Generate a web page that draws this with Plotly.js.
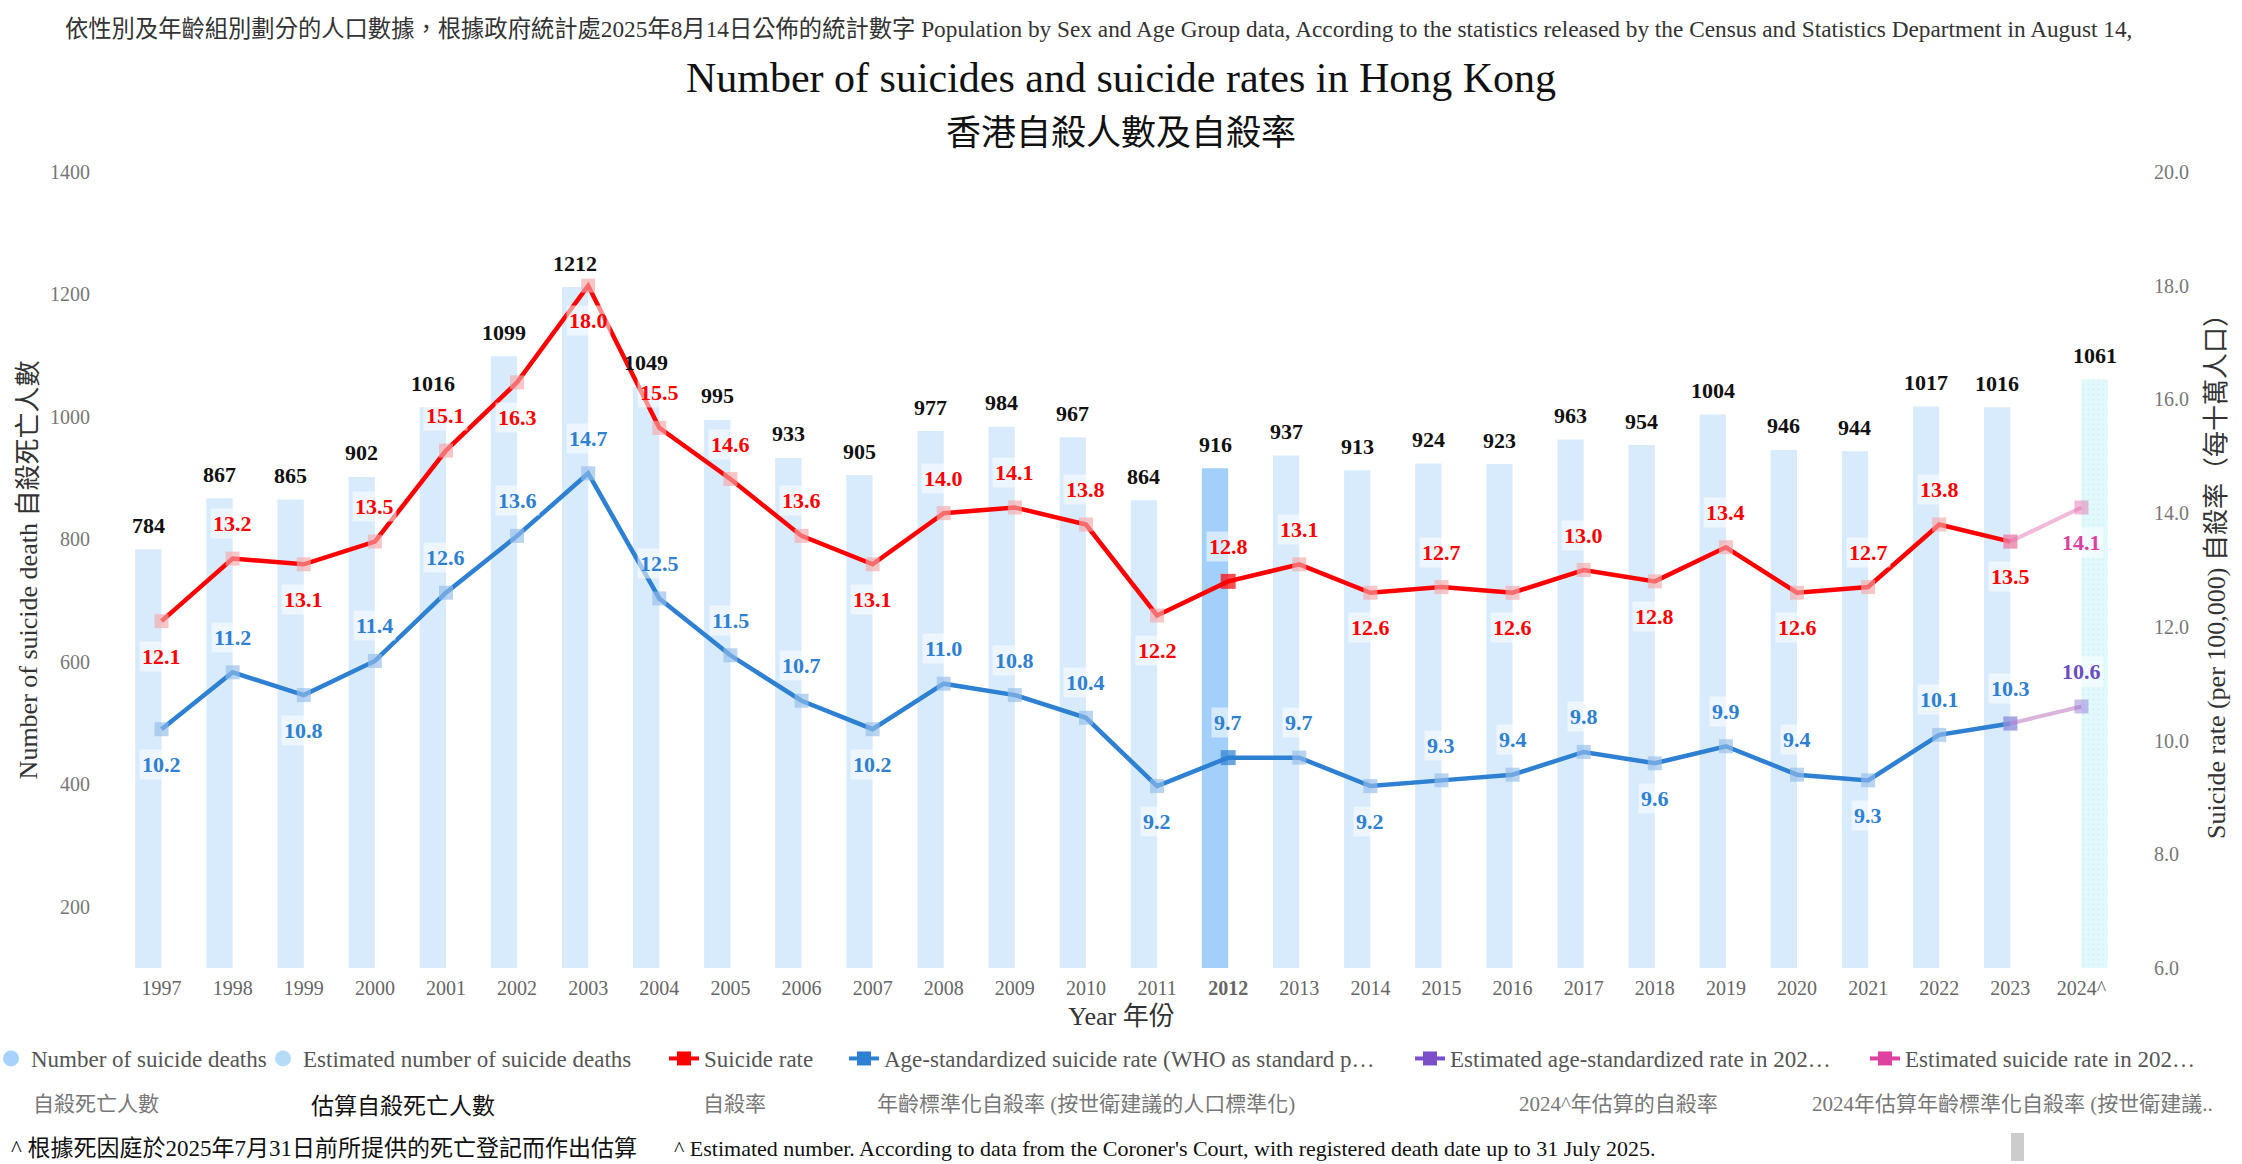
<!DOCTYPE html>
<html>
<head>
<meta charset="utf-8">
<script src="https://cdn.plot.ly/plotly-3.0.1.min.js"></script>
<style>html,body{margin:0;padding:0;background:#fff;}#chart{width:2242px;height:1164px;}</style>
</head>
<body>
<div id="chart"></div>
<script>
// ---------- data ----------
const years = ['1997','1998','1999','2000','2001','2002','2003','2004','2005','2006','2007','2008','2009','2010','2011','2012','2013','2014','2015','2016','2017','2018','2019','2020','2021','2022','2023'];
const estYears = ['2024^'];
const deaths = [784,867,865,902,1016,1099,1212,1049,995,933,905,977,984,967,864,916,937,913,924,923,963,954,1004,946,944,1017,1016];
const estDeaths = [1061];
const suicideRate = [12.1,13.2,13.1,13.5,15.1,16.3,18.0,15.5,14.6,13.6,13.1,14.0,14.1,13.8,12.2,12.8,13.1,12.6,12.7,12.6,13.0,12.8,13.4,12.6,12.7,13.8,13.5];
const ageStdRate = [10.2,11.2,10.8,11.4,12.6,13.6,14.7,12.5,11.5,10.7,10.2,11.0,10.8,10.4,9.2,9.7,9.7,9.2,9.3,9.4,9.8,9.6,9.9,9.4,9.3,10.1,10.3];
const estSuicideRate = [14.1];
const estAgeStdRate = [10.6];
const highlightYear = '2012';

const legendNames = ['Number of suicide deaths', 'Estimated number of suicide deaths', 'Suicide rate',
  'Age-standardized suicide rate (WHO as standard p…', 'Estimated age-standardized rate in 202…', 'Estimated suicide rate in 202…'];
const legendNamesZh = ['自殺死亡人數', '估算自殺死亡人數', '自殺率', '年齡標準化自殺率 (按世衛建議的人口標準化)', '2024^年估算的自殺率', '2024年估算年齡標準化自殺率 (按世衛建議..'];

// label placement (style only): a = above point, b = below point
const rateLabelSide = ['b','a','b','a','a','b','b','a','a','a','b','a','a','a','b','a','a','b','a','b','a','b','a','b','a','a','b'];
const ageLabelSide  = ['b','a','b','a','a','a','a','a','a','a','b','a','a','a','b','a','a','b','a','a','a','b','a','a','b','a','a'];
const estRateLabelSide = ['b'];
const estAgeLabelSide = ['a'];

// ---------- style ----------
const SERIF = '"Liberation Serif", "Times New Roman", "Noto Sans CJK TC", serif';
const RED = '#ff0000', BLUE = '#2e80d2', PURPLE = '#6b4cc4', PINK = '#dd3fa0';
const W = 2242, H = 1164, L = 126, R = 2117, T = 172, B = 968;
const px = p => (p - L) / (R - L);
const py = p => (B - p) / (B - T);
const BAR_W = 0.37;

const lastIdx = years.length - 1;
const allCats = years.concat(estYears);

const legendIds = ['legend', 'legend2', 'legend3', 'legend4', 'legend5', 'legend6'];
const legendTextStartPx = [31, 303, 704, 884, 1450, 1905];
const legendZhPx = [31, 309, 701, 875, 1517, 1810];

const traces = [
  {
    type: 'bar', name: legendNames[0], x: years, y: deaths, width: BAR_W, offset: -BAR_W,
    marker: { color: years.map(y => y === highlightYear ? '#a2d0fb' : '#d8ebfd') },
    showlegend: false
  },
  {
    type: 'bar', name: legendNames[1], x: estYears, y: estDeaths, width: BAR_W, offset: 0,
    marker: { color: '#e0f8fb', pattern: { shape: '.', fgcolor: '#d2f1f7', bgcolor: '#e2f9fc', size: 5, solidity: 0.15 } },
    showlegend: false
  },
  {
    type: 'scatter', mode: 'lines+markers', name: legendNames[2], x: years, y: suicideRate, yaxis: 'y2',
    line: { color: RED, width: 4.5 },
    marker: { symbol: 'square', size: years.map(y => y === highlightYear ? 15 : 14), line: { width: 0 },
      color: years.map(y => y === highlightYear ? RED : 'rgba(246,166,168,0.92)') },
    showlegend: false, cliponaxis: false
  },
  {
    type: 'scatter', mode: 'lines+markers', name: legendNames[3], x: years, y: ageStdRate, yaxis: 'y2',
    line: { color: BLUE, width: 4.5 },
    marker: { symbol: 'square', size: years.map(y => y === highlightYear ? 15 : 14), line: { width: 0 },
      color: years.map(y => y === highlightYear ? BLUE : 'rgba(146,188,233,0.92)') },
    showlegend: false, cliponaxis: false
  },
  {
    type: 'scatter', mode: 'lines+markers', name: legendNames[5],
    x: [years[lastIdx], estYears[0]], y: [suicideRate[lastIdx], estSuicideRate[0]], yaxis: 'y2',
    line: { color: 'rgba(232,130,185,0.55)', width: 4 },
    marker: { symbol: 'square', size: 14, color: 'rgba(228,100,168,0.45)', line: { width: 0 } },
    showlegend: false, cliponaxis: false
  },
  {
    type: 'scatter', mode: 'lines+markers', name: legendNames[4],
    x: [years[lastIdx], estYears[0]], y: [ageStdRate[lastIdx], estAgeStdRate[0]], yaxis: 'y2',
    line: { color: 'rgba(205,155,210,0.75)', width: 4 },
    marker: { symbol: 'square', size: 14, color: 'rgba(140,110,210,0.45)', line: { width: 0 } },
    showlegend: false, cliponaxis: false
  }
];

// legend-only entries (one legend box each so they can be spaced like the reference)
const legendStyles = [
  { mode: 'markers', marker: { symbol: 'circle', size: 16, color: '#a6d2fb' } },
  { mode: 'markers', marker: { symbol: 'circle', size: 16, color: '#b4dcf7' } },
  { mode: 'lines+markers', line: { color: RED, width: 4 }, marker: { symbol: 'square', size: 14, color: RED } },
  { mode: 'lines+markers', line: { color: BLUE, width: 4 }, marker: { symbol: 'square', size: 14, color: BLUE } },
  { mode: 'lines+markers', line: { color: '#7b4fc8', width: 4 }, marker: { symbol: 'square', size: 14, color: '#7b4fc8' } },
  { mode: 'lines+markers', line: { color: '#e040a0', width: 4 }, marker: { symbol: 'square', size: 14, color: '#e040a0' } }
];
legendNames.forEach((nm, i) => {
  traces.push(Object.assign({ type: 'scatter', name: nm, x: [null], y: [null], legend: legendIds[i], showlegend: true }, legendStyles[i]));
});

// ---------- annotations ----------
const annotations = [];
const LABEL_SHIFT = 35;
function pointLabel(catIndex, y, side, color) {
  annotations.push({
    x: catIndex, y: y, xref: 'x', yref: 'y2', showarrow: false,
    text: '<b>' + y.toFixed(1) + '</b>',
    yshift: side === 'a' ? LABEL_SHIFT : -LABEL_SHIFT,
    font: { family: SERIF, size: 22, color: color },
    bgcolor: 'rgba(255,255,255,0.55)', borderpad: 2
  });
}
function countLabel(catIndex, v) {
  annotations.push({
    x: catIndex, y: v, xref: 'x', yref: 'y', showarrow: false, yanchor: 'middle', yshift: 24,
    text: '<b>' + v + '</b>', font: { family: SERIF, size: 22, color: '#111' }
  });
}
years.forEach((yr, i) => {
  countLabel(allCats.indexOf(yr) - BAR_W / 2, deaths[i]);
});
estYears.forEach((yr, i) => {
  countLabel(allCats.indexOf(yr) + BAR_W / 2, estDeaths[i]);
});
years.forEach((yr, i) => {
  const ci = allCats.indexOf(yr);
  pointLabel(ci, suicideRate[i], rateLabelSide[i], RED);
  pointLabel(ci, ageStdRate[i], ageLabelSide[i], BLUE);
});
estYears.forEach((yr, i) => {
  const ci = allCats.indexOf(yr);
  pointLabel(ci, estSuicideRate[i], estRateLabelSide[i], PINK);
  pointLabel(ci, estAgeStdRate[i], estAgeLabelSide[i], PURPLE);
});

function paperText(text, xPix, yPix, size, color, anchor, family) {
  annotations.push({
    xref: 'paper', yref: 'paper', x: px(xPix), y: py(yPix), xanchor: anchor || 'left', yanchor: 'middle',
    showarrow: false, text: text, font: { family: family || SERIF, size: size, color: color }
  });
}
paperText('依性別及年齡組別劃分的人口數據，根據政府統計處2025年8月14日公佈的統計數字 Population by Sex and Age Group data, According to the statistics released by the Census and Statistics Department in August 14,', 63, 29, 23.3, '#333');
paperText('香港自殺人數及自殺率', 1121, 133, 35, '#111', 'center');
legendNamesZh.forEach((t, i) => {
  if (i === 1) paperText(t, legendZhPx[i], 1104, 23, '#111', 'left', '"Noto Sans CJK TC", sans-serif');
  else paperText(t, legendZhPx[i], 1104, 21, '#777');
});
paperText('^ 根據死因庭於2025年7月31日前所提供的死亡登記而作出估算', 9, 1148, 23, '#111');
paperText('^ Estimated number. According to data from the Coroner\'s Court, with registered death date up to 31 July 2025.', 672, 1148, 22, '#111');

const layout = {
  width: W, height: H,
  margin: { l: L, r: W - R, t: T, b: H - B, pad: 0, autoexpand: false },
  paper_bgcolor: '#fff', plot_bgcolor: '#fff',
  font: { family: SERIF, color: '#555' },
  title: { text: 'Number of suicides and suicide rates in Hong Kong', font: { family: SERIF, size: 42, color: '#111' },
    x: 0.5, xanchor: 'center', y: 1 - 77 / H, yanchor: 'middle', yref: 'container' },
  barmode: 'overlay',
  showlegend: true,
  xaxis: {
    type: 'category', categoryorder: 'array', categoryarray: allCats,
    range: [-0.5, allCats.length - 0.5], autorange: false,
    tickmode: 'array', tickvals: allCats, ticktext: allCats.map(c => c === highlightYear ? '<b>' + c + '</b>' : c),
    tickfont: { family: SERIF, size: 20, color: '#666' },
    showgrid: false, zeroline: false, showline: false, ticks: '', ticklabelstandoff: 6,
    title: { text: 'Year 年份', font: { family: SERIF, size: 26, color: '#333' }, standoff: 8 }
  },
  yaxis: {
    range: [100, 1400], autorange: false, tick0: 0, dtick: 200,
    tickfont: { family: SERIF, size: 20, color: '#777' },
    showgrid: false, zeroline: false, showline: false, ticks: '', ticklabelstandoff: 35,
    title: { text: 'Number of suicide death 自殺死亡人數', font: { family: SERIF, size: 26, color: '#333' }, standoff: 4 }
  },
  yaxis2: {
    overlaying: 'y', side: 'right', range: [6, 20], autorange: false, tick0: 6, dtick: 2, tickformat: '.1f',
    tickfont: { family: SERIF, size: 20, color: '#777' },
    showgrid: false, zeroline: false, showline: false, ticks: '', ticklabelstandoff: 36,
    title: { text: 'Suicide rate (per 100,000) 自殺率（每十萬人口）', font: { family: SERIF, size: 26, color: '#333' }, standoff: 18 }
  },
  annotations: annotations,
  shapes: [
    { type: 'rect', xref: 'paper', yref: 'paper', x0: px(2011), x1: px(2024), y0: py(1161), y1: py(1133),
      fillcolor: '#cccccc', line: { width: 0 } }
  ]
};
legendIds.forEach((id, i) => {
  layout[id] = { orientation: 'h', x: px(legendTextStartPx[i] - 40), xanchor: 'left', y: py(1037), yanchor: 'top',
    font: { family: SERIF, size: 23, color: '#555' }, bgcolor: 'rgba(0,0,0,0)', borderwidth: 0 };
});

Plotly.newPlot('chart', traces, layout, { displayModeBar: false, responsive: false });
</script>
</body>
</html>
